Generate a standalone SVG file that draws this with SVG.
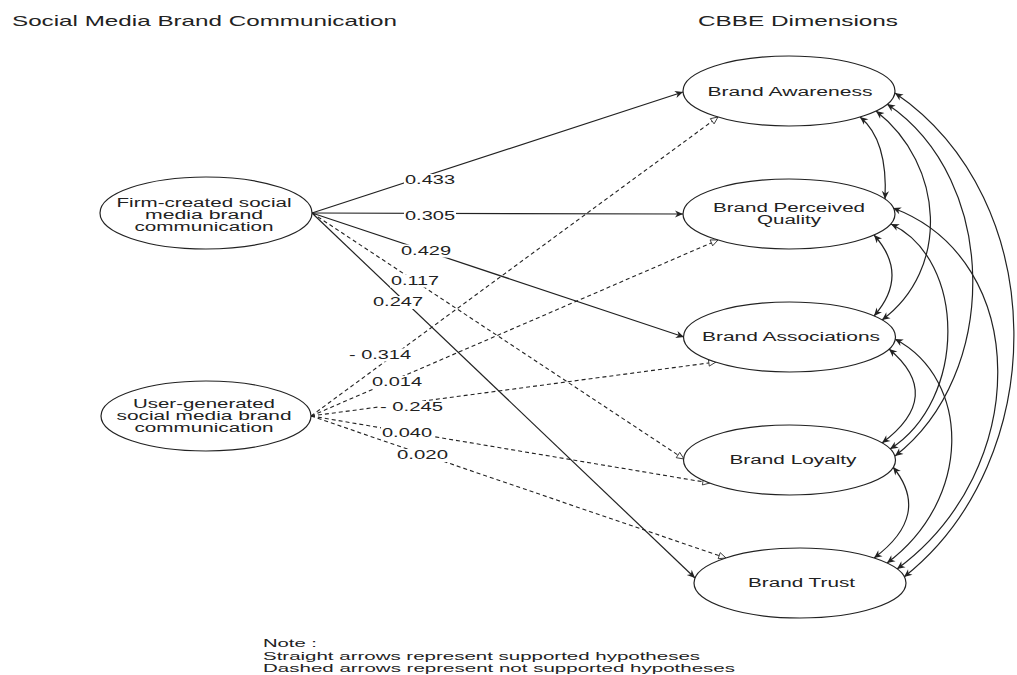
<svg xmlns="http://www.w3.org/2000/svg" width="1017" height="675" viewBox="0 0 1017 675">
<style>
.t{font-family:"Liberation Sans",Arial,sans-serif;fill:#222;}
.title{font-size:15px;}
.nt{font-size:12px;text-anchor:middle;}
.lb{font-size:12px;}
.note{font-size:10.5px;}
.node{fill:#fff;stroke:#222;stroke-width:1.2;}
.sol{fill:none;stroke:#222;stroke-width:1.2;marker-end:url(#af);}
.dsh{fill:none;stroke:#222;stroke-width:1.1;stroke-dasharray:4 3;marker-end:url(#ao);}
.cur{fill:none;stroke:#222;stroke-width:1.2;marker-start:url(#af);marker-end:url(#af);}
.bg{fill:#fff;}
</style>
<defs>
<marker id="af" viewBox="0 0 10 10" refX="10" refY="5" markerWidth="10" markerHeight="8" markerUnits="userSpaceOnUse" orient="auto-start-reverse">
<path d="M0,0.5 L10,5 L0,9.5 L3,5 Z" fill="#222"/>
</marker>
<marker id="ao" viewBox="0 0 10 10" refX="9.5" refY="5" markerWidth="10" markerHeight="8" markerUnits="userSpaceOnUse" orient="auto">
<path d="M0.5,1 L9.5,5 L0.5,9 Z" fill="#fff" stroke="#222" stroke-width="1"/>
</marker>
</defs>
<rect x="0" y="0" width="1017" height="675" fill="#fff"/>

<g id="titles">
<text class="t title" x="12" y="26" textLength="385" lengthAdjust="spacingAndGlyphs">Social Media Brand Communication</text>
<text class="t title" x="698" y="26" textLength="200" lengthAdjust="spacingAndGlyphs">CBBE Dimensions</text>
</g>

<g id="connectors">
<line class="sol" x1="312" y1="213" x2="683" y2="92"/>
<line class="sol" x1="312" y1="213" x2="683" y2="214"/>
<line class="sol" x1="312" y1="213" x2="684" y2="337"/>
<line class="dsh" x1="312" y1="213" x2="684" y2="459"/>
<line class="sol" x1="312" y1="213" x2="695" y2="578"/>
<line class="dsh" x1="311" y1="416" x2="718" y2="117"/>
<line class="dsh" x1="311" y1="416" x2="718" y2="240"/>
<line class="dsh" x1="311" y1="416" x2="716" y2="362"/>
<line class="dsh" x1="311" y1="416" x2="710" y2="483"/>
<line class="dsh" x1="311" y1="416" x2="726" y2="558"/>
<path class="cur" d="M860,117 Q888,140 885,199"/>
<path class="cur" d="M876,111 C945,165 950,270 882,320"/>
<path class="cur" d="M887,104 C1000,180 1000,375 895,456"/>
<path class="cur" d="M895,93 C1052,200 1052,460 904,577"/>
<path class="cur" d="M874,235 Q910,275 874,316"/>
<path class="cur" d="M891,224 C967,260 967,400 890,449"/>
<path class="cur" d="M893,208 C1032,260 1032,470 897,569"/>
<path class="cur" d="M889,349 Q945,396 882,443"/>
<path class="cur" d="M895,339 C972,380 972,500 887,563"/>
<path class="cur" d="M893,467 Q932,515 874,558"/>
</g>

<g id="labels">
<rect class="bg" x="404" y="174" width="52" height="13"/>
<text class="t lb" x="405" y="184" textLength="50" lengthAdjust="spacingAndGlyphs">0.433</text>
<rect class="bg" x="404" y="209.5" width="52" height="13"/>
<text class="t lb" x="405" y="219.5" textLength="50" lengthAdjust="spacingAndGlyphs">0.305</text>
<rect class="bg" x="400" y="244.5" width="52" height="13"/>
<text class="t lb" x="401" y="254.5" textLength="50" lengthAdjust="spacingAndGlyphs">0.429</text>
<rect class="bg" x="390" y="274.5" width="50" height="13"/>
<text class="t lb" x="391" y="284.5" textLength="48" lengthAdjust="spacingAndGlyphs">0.117</text>
<rect class="bg" x="372" y="296" width="52" height="13"/>
<text class="t lb" x="373" y="306" textLength="50" lengthAdjust="spacingAndGlyphs">0.247</text>
<rect class="bg" x="348" y="348.5" width="64" height="13"/>
<text class="t lb" x="349" y="358.5" textLength="62" lengthAdjust="spacingAndGlyphs">- 0.314</text>
<rect class="bg" x="371" y="376" width="52" height="13"/>
<text class="t lb" x="372" y="386" textLength="50" lengthAdjust="spacingAndGlyphs">0.014</text>
<rect class="bg" x="379" y="401" width="65" height="13"/>
<text class="t lb" x="380" y="411" textLength="63" lengthAdjust="spacingAndGlyphs">- 0.245</text>
<rect class="bg" x="381" y="427" width="52" height="13"/>
<text class="t lb" x="382" y="437" textLength="50" lengthAdjust="spacingAndGlyphs">0.040</text>
<rect class="bg" x="396" y="449" width="53" height="13"/>
<text class="t lb" x="397" y="459" textLength="51" lengthAdjust="spacingAndGlyphs">0.020</text>
</g>

<g id="firm">
<ellipse class="node" cx="206" cy="213" rx="106" ry="36"/>
<text class="t nt" x="204" y="207" textLength="175" lengthAdjust="spacingAndGlyphs">Firm-created social</text>
<text class="t nt" x="204" y="219" textLength="118" lengthAdjust="spacingAndGlyphs">media brand</text>
<text class="t nt" x="204" y="231" textLength="139" lengthAdjust="spacingAndGlyphs">communication</text>
</g>
<g id="user">
<ellipse class="node" cx="206" cy="416" rx="105" ry="35"/>
<text class="t nt" x="204" y="408" textLength="142" lengthAdjust="spacingAndGlyphs">User-generated</text>
<text class="t nt" x="204" y="420" textLength="175" lengthAdjust="spacingAndGlyphs">social media brand</text>
<text class="t nt" x="204" y="432" textLength="139" lengthAdjust="spacingAndGlyphs">communication</text>
</g>
<g id="awareness">
<ellipse class="node" cx="789" cy="91" rx="106" ry="35"/>
<text class="t nt" x="790" y="96" textLength="165" lengthAdjust="spacingAndGlyphs">Brand Awareness</text>
</g>
<g id="quality">
<ellipse class="node" cx="789" cy="214" rx="106" ry="35"/>
<text class="t nt" x="789" y="212" textLength="152" lengthAdjust="spacingAndGlyphs">Brand Perceived</text>
<text class="t nt" x="789" y="224" textLength="64" lengthAdjust="spacingAndGlyphs">Quality</text>
</g>
<g id="associations">
<ellipse class="node" cx="789.5" cy="337" rx="106" ry="35"/>
<text class="t nt" x="791" y="341" textLength="178" lengthAdjust="spacingAndGlyphs">Brand Associations</text>
</g>
<g id="loyalty">
<ellipse class="node" cx="789.5" cy="460" rx="106" ry="35"/>
<text class="t nt" x="793" y="464" textLength="127" lengthAdjust="spacingAndGlyphs">Brand Loyalty</text>
</g>
<g id="trust">
<ellipse class="node" cx="800" cy="583" rx="106" ry="35"/>
<text class="t nt" x="801.5" y="587" textLength="107" lengthAdjust="spacingAndGlyphs">Brand Trust</text>
</g>

<g id="note">
<text class="t note" x="263" y="647" textLength="54" lengthAdjust="spacingAndGlyphs">Note :</text>
<text class="t note" x="263" y="659.5" textLength="437" lengthAdjust="spacingAndGlyphs">Straight arrows represent supported hypotheses</text>
<text class="t note" x="263" y="672" textLength="472" lengthAdjust="spacingAndGlyphs">Dashed arrows represent not supported hypotheses</text>
</g>
</svg>
